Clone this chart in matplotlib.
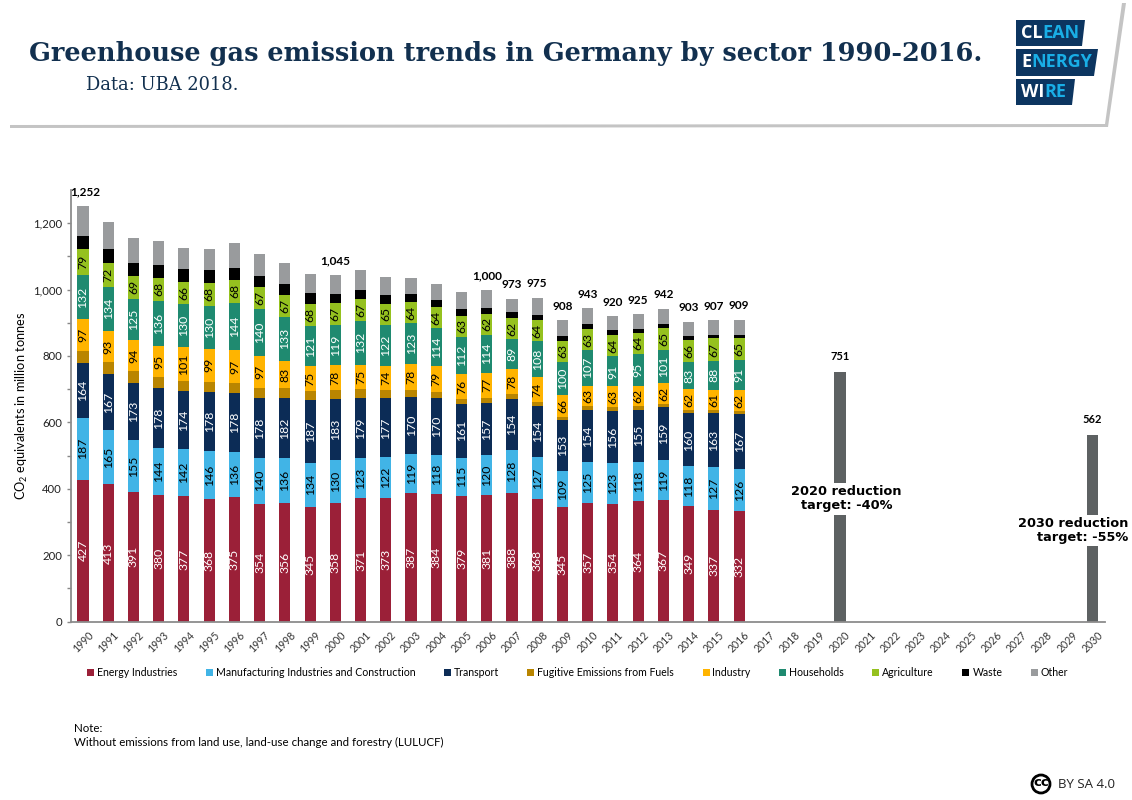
import matplotlib
matplotlib.use("Agg")
import matplotlib.pyplot as plt
import numpy as np
from matplotlib.patches import Polygon, Circle

plt.rcParams["font.family"] = ["Lato", "DejaVu Sans"]
plt.rcParams["mathtext.default"] = "regular"

years = list(range(1990, 2031))

energy = [427, 413, 391, 380, 377, 368, 375, 354, 356, 345, 358, 371, 373, 387, 384, 379, 381, 388, 368, 345, 357, 354, 364, 367, 349, 337, 332]
manufacturing = [187, 165, 155, 144, 142, 146, 136, 140, 136, 134, 130, 123, 122, 119, 118, 115, 120, 128, 127, 109, 125, 123, 118, 119, 118, 127, 126]
transport = [164, 167, 173, 178, 174, 178, 178, 178, 182, 187, 183, 179, 177, 170, 170, 161, 157, 154, 154, 153, 154, 156, 155, 159, 160, 163, 167]
fugitive = [37, 37, 35, 34, 32, 31, 31, 31, 28, 28, 25, 26, 25, 22, 18, 15, 15, 14, 13, 10, 12, 12, 12, 11, 10, 10, 10]
industry = [97, 93, 94, 95, 101, 99, 97, 97, 83, 75, 78, 75, 74, 78, 79, 76, 77, 78, 74, 66, 63, 63, 62, 62, 62, 61, 62]
households = [132, 134, 125, 136, 130, 130, 144, 140, 133, 121, 119, 132, 122, 123, 114, 112, 114, 89, 108, 100, 107, 91, 95, 101, 83, 88, 91]
agriculture = [79, 72, 69, 68, 66, 68, 68, 67, 67, 68, 67, 67, 65, 64, 64, 63, 62, 62, 64, 63, 63, 64, 64, 65, 66, 67, 65]
waste = [38, 40, 38, 38, 39, 39, 37, 33, 32, 31, 28, 25, 26, 24, 22, 21, 19, 18, 16, 15, 14, 14, 12, 13, 11, 11, 11]
other = [91, 84, 75, 72, 64, 63, 73, 67, 64, 59, 57, 62, 54, 49, 48, 51, 55, 42, 51, 47, 48, 43, 43, 45, 44, 43, 45]

sectors = ["Energy Industries", "Manufacturing Industries and Construction", "Transport",
           "Fugitive Emissions from Fuels", "Industry", "Households", "Agriculture", "Waste", "Other"]
series = [energy, manufacturing, transport, fugitive, industry, households, agriculture, waste, other]
colors = ["#9B2038", "#41B4E6", "#0C2C56", "#B98500", "#FFB400", "#1F8A70", "#95C11F", "#000000", "#999B9D"]
label_colors = ["white", "black", "white", None, "black", "white", "black", None, None]

total_labels = {1990: "1,252", 2000: "1,045", 2006: "1,000", 2007: "973", 2008: "975", 2009: "908",
                2010: "943", 2011: "920", 2012: "925", 2013: "942", 2014: "903", 2015: "907", 2016: "909"}
target_years = [2020, 2030]
target_values = [751, 562]

W, H = 1132, 800
fig = plt.figure(figsize=(W / 100, H / 100), dpi=100)

# page decoration in pixel coordinates
bg = fig.add_axes([0, 0, 1, 1])
bg.set_xlim(0, W)
bg.set_ylim(H, 0)
bg.axis("off")
bg.add_patch(Polygon([(10, 128), (1108, 127), (1126, 3), (1122, 3), (1105, 124), (10, 125)], fc="#C4C4C4", ec="none"))

bg.text(29, 53, "Greenhouse gas emission trends in Germany by sector 1990-2016.", family="DejaVu Serif",
        weight="bold", fontsize=18.45, color="#12304F", va="center", ha="left")
bg.text(86, 85, "Data: UBA 2018.", family="DejaVu Serif", fontsize=12.9, color="#12304F", va="center")

logo_navy = "#0C3560"
logo_light = "#19AEE6"
for pts, first, rest, y in [([(1016, 20), (1085, 20), (1082, 46), (1016, 46)], "CL", "EAN", 33),
                            ([(1016, 49), (1098, 49), (1094, 76), (1016, 76)], "E", "NERGY", 62),
                            ([(1016, 79), (1075, 79), (1072, 105), (1016, 105)], "WI", "RE", 92)]:
    bg.add_patch(Polygon(pts, fc=logo_navy, ec="none"))
    t = bg.text(1021, y, first, family="Open Sans", weight="bold", fontsize=13, color="white", va="center")
    bg.annotate(rest, xy=(1, 0.5), xycoords=t, va="center", family="Open Sans", weight="bold",
                fontsize=13, color=logo_light)

bg.text(74, 729, "Note:", fontsize=8.3, va="center")
bg.text(74, 742, "Without emissions from land use, land-use change and forestry (LULUCF)", fontsize=8.3,
        va="center")
bg.add_patch(Circle((1041, 784), 9, fc="white", ec="black", lw=2))
bg.text(1041, 783, "cc", fontsize=9.5, weight="bold", ha="center", va="center", family="DejaVu Sans")
bg.text(1058, 784, "BY SA 4.0", fontsize=9.5, va="center", family="Open Sans", color="#222222")

# chart
ax = fig.add_axes([71 / W, 1 - 621.5 / H, (1105 - 71) / W, 431.5 / H])
ax.patch.set_alpha(0)
x = np.array(years[:len(energy)])
bottom = np.zeros(len(x))
for name, vals, col, lab_col in zip(sectors, series, colors, label_colors):
    vals = np.array(vals)
    ax.bar(x, vals, 0.44, bottom=bottom, color=col, label=name)
    if lab_col:
        for xi, b, v in zip(x, bottom, vals):
            ax.text(xi, b + v / 2, str(v), rotation=90, ha="center", va="center", color=lab_col, fontsize=8.8)
    bottom = bottom + vals

for xi, tot in zip(x, bottom):
    if int(xi) in total_labels:
        ax.annotate(total_labels[int(xi)], (xi, tot), xytext=(1.5 if xi == 1990 else 0, 10),
                    textcoords="offset points", ha="center", va="center", fontsize=8.5, weight="bold")

ax.bar(target_years, target_values, 0.44, color="#5D6162")
for xi, v in zip(target_years, target_values):
    ax.annotate(str(v), (xi, v), xytext=(0, 11), textcoords="offset points", ha="center", va="center",
                fontsize=8, weight="bold")

ax.annotate("2020 reduction\ntarget: -40%", (2020, 370), xytext=(4.5, 0), textcoords="offset points", ha="center",
            va="center", fontsize=9.3, weight="bold", family="DejaVu Sans", linespacing=1.15,
            bbox=dict(fc="white", ec="none", pad=1.5))
ax.annotate("2030 reduction\ntarget: -55%", (2030, 274), xytext=(26, 0), textcoords="offset points", ha="right",
            va="center", fontsize=9.3, weight="bold", family="DejaVu Sans", linespacing=1.15,
            bbox=dict(fc="white", ec="none", pad=1.5), annotation_clip=False)

ax.set_xlim(1990 - 0.475, 2030 + 0.5)
ax.set_ylim(0, 1300)
ax.set_xticks(years)
ax.set_xticklabels(years, rotation=45, fontsize=7.6, color="#333333")
ax.tick_params(axis="x", length=0, pad=6)
ax.set_yticks(range(0, 1201, 200))
ax.set_yticklabels(["0", "200", "400", "600", "800", "1,000", "1,200"], fontsize=8.2, color="#222222")
ax.set_yticks(range(100, 1300, 200), minor=True)
ax.tick_params(axis="y", which="both", length=3, color="#888888", width=1)
ax.set_ylabel(r"CO$_2$ equivalents in million tonnes", fontsize=9.2, labelpad=2)
for side in ["top", "right"]:
    ax.spines[side].set_visible(False)
for side in ["left", "bottom"]:
    ax.spines[side].set_color("#8C8C8C")
    ax.spines[side].set_linewidth(1.3)

ax.legend(loc="center left", bbox_to_anchor=(16 / 1034, -0.1185), ncol=9, frameon=False, fontsize=7.6,
          handlelength=0.66, handleheight=0.66, handletextpad=0.28, columnspacing=2.7, borderaxespad=0,
          borderpad=0)

fig.savefig("out.png", dpi=100)
